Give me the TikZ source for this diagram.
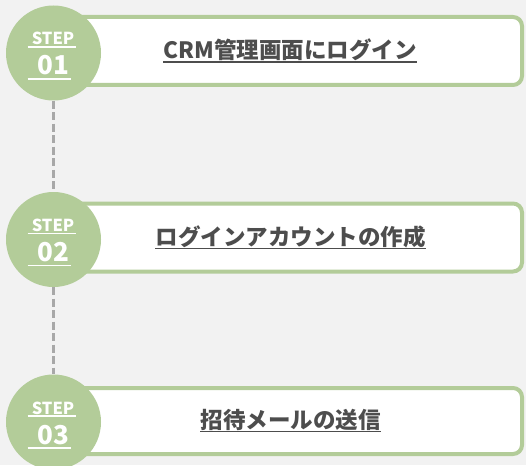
\documentclass[tikz,border=0pt]{standalone}
\usepackage{fontspec}
\newfontfamily\jp{Noto Sans CJK JP}
\definecolor{stepgreen}{HTML}{B3CC99}
\definecolor{bgray}{HTML}{F2F2F2}
\definecolor{txtgray}{HTML}{4D4D4D}
\definecolor{dashgray}{HTML}{A8A8A8}
\tikzset{
  stepbox/.style={draw=stepgreen, line width=4pt, fill=white, rounded corners=9pt},
  stepcircle/.style={circle, fill=stepgreen, minimum size=95pt, inner sep=0pt},
  steplabel/.style={text=white, font=\jp\bfseries\fontsize{16.5}{16.5}\selectfont, anchor=base, inner sep=0pt},
  stepnum/.style={text=white, font=\jp\bfseries\fontsize{26}{26}\selectfont, anchor=base, inner sep=0pt},
  title/.style={text=txtgray, font=\jp\bfseries\fontsize{22.5}{22.5}\selectfont, anchor=base, inner sep=0pt},
  wline/.style={draw=white, line width=1.5pt},
  tline/.style={draw=txtgray, line width=1.5pt},
  connector/.style={draw=dashgray, line width=3pt, dash pattern=on 8pt off 3.5pt}
}
\begin{document}
\begin{tikzpicture}[x=1pt,y=-1pt]
\fill[bgray] (0,0) rectangle (526,465);
\useasboundingbox (0,0) rectangle (526,465);
% boxes
\draw[stepbox] (50,17) rectangle (522,85);
\draw[stepbox] (50,203.5) rectangle (522,271.5);
\draw[stepbox] (50,388) rectangle (522,454);
% circles
\node[stepcircle] (c1) at (53.5,53) {};
\node[stepcircle] (c2) at (53.5,239.5) {};
\node[stepcircle] (c3) at (53.5,422) {};
% connectors
\draw[connector] (c1.south) -- (c2.north);
\draw[connector] (c2.north |- c2.south) -- (c3.north);
% step labels
\foreach \n/\y/\num in {c1/53/01, c2/239.5/02, c3/422/03}{
  \node[steplabel] (s\n) at (53,\y-8) {STEP};
  \node[stepnum] (n\n) at (53.5,\y+22) {\num};
  \draw[wline] (27.5,\y-6) -- (75.5,\y-6);
  \draw[wline] (27.5,\y+26) -- (71,\y+26);
}
% titles
\node[title] (t1) at (290,59) {CRM管理画面にログイン};
\node[title] (t2) at (290.5,245.5) {ログインアカウントの作成};
\node[title] (t3) at (290.5,428.5) {招待メールの送信};
\foreach \t in {t1,t2,t3}{
  \draw[tline] ([yshift=-3pt]\t.base west) -- ([yshift=-3pt]\t.base east);
}
\end{tikzpicture}
\end{document}
